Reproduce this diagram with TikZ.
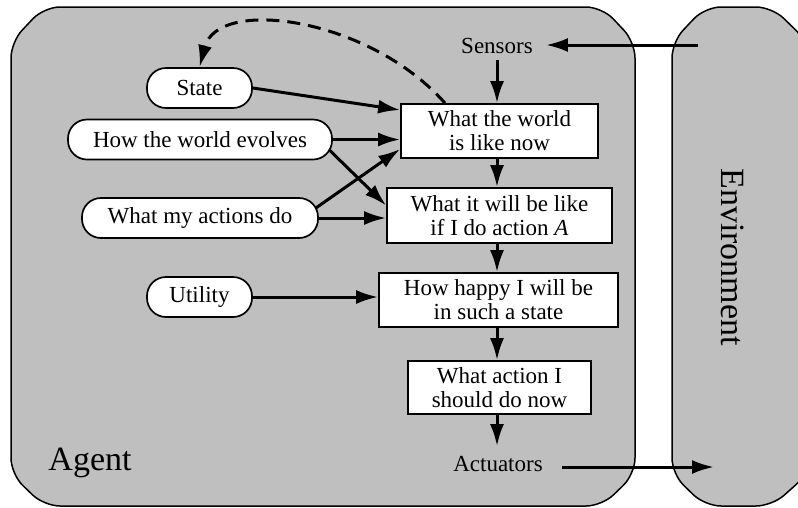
\documentclass[tikz,border=0pt]{standalone}
\usepackage{fontspec}
\setmainfont{Liberation Serif}
\usetikzlibrary{arrows.meta}
\definecolor{panel}{RGB}{191,191,191}
\begin{document}
\begin{tikzpicture}[x=1pt,y=-1pt,
  panelbox/.style={draw=black, line width=1.5pt, fill=panel, rounded corners=16pt},
  procbox/.style={draw=black, line width=1.7pt, fill=white, align=center, inner sep=0pt, font=\fontsize{23}{24}\selectfont},
  pill/.style={draw=black, line width=1.7pt, fill=white, rounded corners=19pt, inner sep=0pt, minimum height=40pt, font=\fontsize{23}{24}\selectfont},
  lbl/.style={font=\fontsize{23}{24}\selectfont},
  big/.style={font=\fontsize{34}{36}\selectfont, inner sep=0pt},
  conn/.style={line width=3pt, -{Latex[length=22pt,width=14pt]}},
]
\useasboundingbox (0,0) rectangle (798,507);
\clip (0,0) rectangle (798,507);
% panels
\draw[panelbox] (11,42) -- (44,7) -- (602,7) -- (635,42) -- (635,474) -- (602,506) -- (44,506) -- (11,474) -- cycle;
\draw[panelbox] (672,42) -- (705,7) -- (772,7) -- (808,42) -- (808,474) -- (772,506) -- (705,506) -- (672,474) -- cycle;
% nodes
\node[lbl, inner xsep=13pt, inner ysep=6pt] (sensors) at (497,46) {Sensors};
\node[procbox, minimum width=197pt, minimum height=54pt] (world) at (499.5,131) {What the world\\is like now};
\node[procbox, minimum width=225pt, minimum height=55pt] (will) at (499.5,215.5) {What it will be like\\if I do action \textit{A}};
\node[procbox, minimum width=239pt, minimum height=54pt] (happy) at (498.5,300) {How happy I will be\\in such a state};
\node[procbox, minimum width=183pt, minimum height=53pt] (action) at (499.5,387.5) {What action I\\should do now};
\node[lbl, inner xsep=19pt, inner ysep=10pt] (act) at (498,464) {Actuators};
\node[pill, minimum width=105pt] (state) at (199.5,88) {State};
\node[pill, minimum width=264pt] (evolves) at (200,139.5) {How the world evolves};
\node[pill, minimum width=236pt] (actions) at (200,218) {What my actions do};
\node[pill, minimum width=105pt] (utility) at (199.5,297) {Utility};
\node[big] (agent) at (90,463) {Agent};
\node[big, rotate=-90] (env) at (733,257) {Environment};
\coordinate (envin) at (698,45);
\coordinate (envout) at (714,467);
% connectors
\draw[conn] (envin) -- (envin -| sensors.east);
\draw[conn] ([yshift=-3pt]act.east) -- (envout);
\draw[conn] (sensors.south) -- (sensors.south |- world.north);
\draw[conn] (world.south -| sensors) -- (will.north -| sensors);
\draw[conn] (will.south -| sensors) -- (happy.north -| sensors);
\draw[conn] (happy.south -| sensors) -- (action.north -| sensors);
\draw[conn] (action.south -| sensors) -- (act.north -| sensors);
\draw[conn] (state.east) -- ([yshift=21pt]world.west);
\draw[conn] (evolves.east) -- (evolves.east -| world.west);
\draw[conn] ([xshift=-4pt,yshift=-10pt]evolves.east) -- ([yshift=10pt]will.west);
\draw[conn] ([xshift=-3pt,yshift=10pt]actions.east) -- ([yshift=-18pt]world.west);
\draw[conn] (actions.east) -- (actions.east -| will.west);
\draw[conn] (utility.east) -- (utility.east -| happy.west);
\draw[conn, dash pattern=on 13pt off 8pt] ([xshift=-54.5pt]world.north) .. controls (370,18) and (218,-4) .. (state.north);
\end{tikzpicture}
\end{document}
